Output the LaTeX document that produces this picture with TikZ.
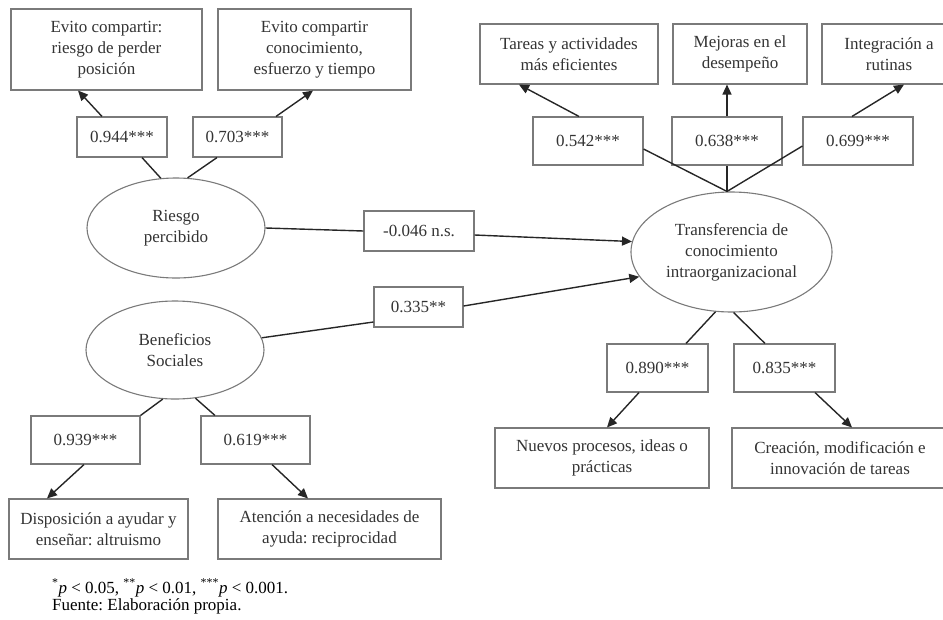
\documentclass[tikz,border=0pt]{standalone}
\usepackage{fontspec}
\setmainfont{Liberation Serif}
\usetikzlibrary{arrows.meta,shapes.geometric}
\definecolor{txt}{HTML}{333333}
\definecolor{frame}{HTML}{7A7A7A}
\frenchspacing
\begin{document}
\begin{tikzpicture}[x=1pt,y=-1pt,
  every node/.style={text=txt, font=\fontsize{17}{21}\selectfont, align=center, inner sep=0pt},
  box/.style={draw=frame, line width=1.1pt, rectangle},
  coef/.style={box, minimum width=#1, minimum height=48},
  coef/.default=110,
  latent/.style={draw=frame, line width=1.1pt, ellipse},
  link/.style={draw=black!85, line width=1.4pt},
  arr/.style={link, -{Triangle[length=10pt,width=9pt]}}
]
\useasboundingbox (0,0) rectangle (943,619);

% latent constructs
\node[latent, minimum width=178, minimum height=100] (riesgo) at (176,228) {Riesgo\\percibido};
\node[latent, minimum width=178, minimum height=98] (benef) at (175,350) {Beneficios\\Sociales};
\node[latent, minimum width=201, minimum height=120] (transf) at (731.5,252) {Transferencia de\\conocimiento\\intraorganizacional};

% indicators of perceived risk
\node[box, minimum width=191, minimum height=81] (r1) at (106.5,49.5) {Evito compartir:\\riesgo de perder\\posición};
\node[box, minimum width=193, minimum height=81] (r2) at (314.5,49.5) {Evito compartir\\conocimiento,\\esfuerzo y tiempo};
\node[coef=90, minimum height=40] (c944) at (122,137) {0.944***};
\node[coef=89, minimum height=40] (c703) at (237.5,137) {0.703***};

% structural paths
\node[coef=110, minimum height=40] (c046) at (419,231) {-0.046 n.s.};
\node[coef=89, minimum height=40] (c335) at (418.5,307) {0.335**};

% indicators of social benefits
\node[coef=109] (c939) at (85.5,440) {0.939***};
\node[coef=109] (c619) at (255.5,440) {0.619***};
\node[box, minimum width=179, minimum height=60] (disp) at (98.5,529) {Disposición a ayudar y\\enseñar: altruismo};
\node[box, minimum width=223, minimum height=60] (aten) at (329.5,529) {Atención a necesidades de\\ayuda: reciprocidad};

% indicators of knowledge transfer (upper)
\node[box, minimum width=178, minimum height=60] (t1) at (569,54) {Tareas y actividades\\más eficientes};
\node[box, minimum width=134, minimum height=60] (t2) at (740,54) {Mejoras en el\\desempeño};
\node[box, minimum width=134, minimum height=60] (t3) at (889,54) {Integración a\\rutinas};
\node[coef] (c542) at (588,141) {0.542***};
\node[coef] (c638) at (727,141) {0.638***};
\node[coef] (c699) at (858,141) {0.699***};

% indicators of knowledge transfer (lower)
\node[coef=101] (c890) at (657.5,368) {0.890***};
\node[coef=101] (c835) at (784.5,368) {0.835***};
\node[box, minimum width=214, minimum height=60] (nuevos) at (602,458) {Nuevos procesos, ideas o\\prácticas};
\node[box, minimum width=216, minimum height=60] (crea) at (840,458) {Creación, modificación e\\innovación de tareas};

% perceived risk loadings
\draw[link] (riesgo.107) -- ([xshift=20]c944.south);
\draw[arr] ([xshift=-20]c944.north) -- ([xshift=-28.5]r1.south);
\draw[link] (riesgo.77) -- ([xshift=-20.5]c703.south);
\draw[arr] ([xshift=38.5]c703.north) -- ([xshift=-1.5]r2.south);

% structural paths
\draw[link] (riesgo.east) -- (c046.west);
\draw[arr] ([yshift=-4]c046.east) -- (transf.174);
\draw[link] (benef.8) -- ([yshift=-15]c335.west);
\draw[arr] ([yshift=1]c335.east) -- (transf.195);

% social benefits loadings
\draw[link] (benef.256) -- (c939.north east);
\draw[arr] ([xshift=-1.5]c939.south) -- ([xshift=-51.5]disp.north);
\draw[link] (benef.293) -- ([xshift=-40.5]c619.north);
\draw[arr] ([xshift=16.5]c619.south) -- ([xshift=-21.5]aten.north);

% knowledge transfer loadings (upper)
\coordinate (apex) at (c638.south |- transf.north);
\draw[link] (apex) -- ([yshift=-8]c542.east);
\draw[link] (apex) -- (c638.south);
\draw[link] (apex) -- ([yshift=-5]c699.west);
\draw[arr] ([xshift=-9]c542.north) -- ([xshift=-50]t1.south);
\draw[arr] (c638.north) -- (c638.north |- t2.south);
\draw[arr] ([xshift=-6]c699.north) -- ([xshift=15]t3.south);

% knowledge transfer loadings (lower)
\draw[link] (transf.255) -- ([xshift=28.5]c890.north);
\draw[arr] ([xshift=-18.5]c890.south) -- ([xshift=5]nuevos.north);
\draw[link] (transf.272) -- ([xshift=-19.5]c835.north);
\draw[arr] ([xshift=30.5]c835.south) -- ([xshift=12]crea.north);

% notes
\node[anchor=base west, align=left, text=black, font=\fontsize{17}{17}\selectfont] (nota) at (52,610)
  {\textsuperscript{*}\textit{p} < 0.05, \textsuperscript{**}\textit{p} < 0.01, \textsuperscript{***}\textit{p} < 0.001.\\Fuente: Elaboración propia.};
\end{tikzpicture}
\end{document}
